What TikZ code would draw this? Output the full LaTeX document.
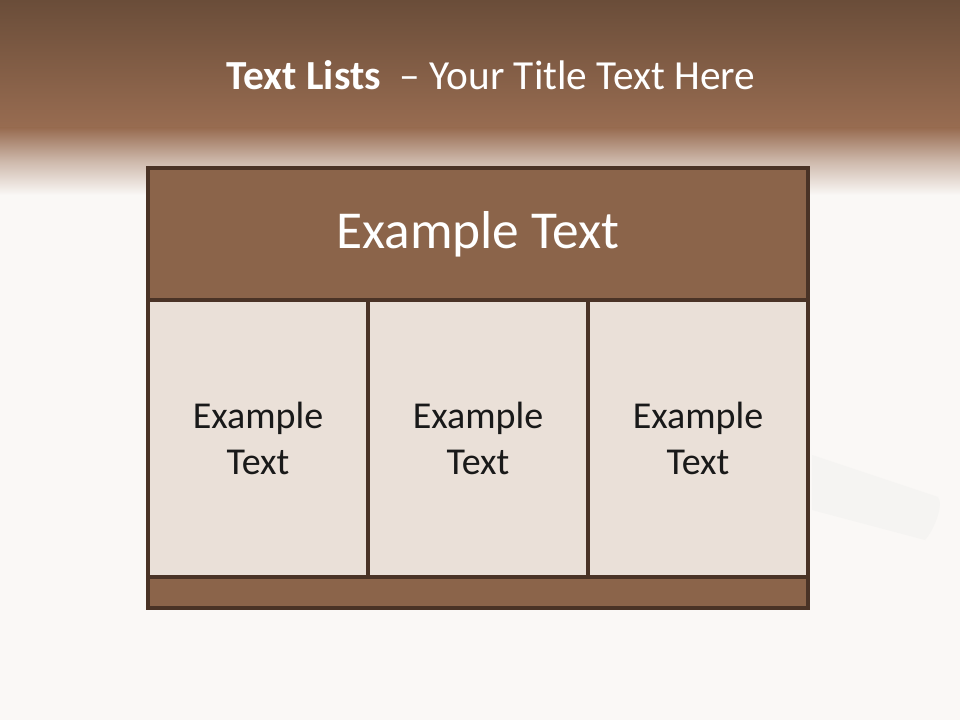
\documentclass[tikz,border=0pt]{standalone}
\usepackage{fontspec}
\setmainfont{Carlito}
\usetikzlibrary{positioning}
\definecolor{BandTop}{HTML}{6A4D39}
\definecolor{BandLow}{HTML}{986C51}
\definecolor{Paper}{HTML}{FAF8F6}
\definecolor{Bark}{HTML}{8B644A}
\definecolor{Sand}{HTML}{EAE0D8}
\definecolor{Edge}{HTML}{4A3326}
\definecolor{Chalk}{HTML}{F5F4F2}

\begin{document}
\begin{tikzpicture}[x=0.75pt,y=-0.75pt,
    band/.style={fill=Bark,draw=Edge,line width=2.3pt,inner sep=0pt},
    cell/.style={fill=Sand,draw=Edge,line width=2.3pt,inner sep=0pt,minimum width=165pt,minimum height=207.75pt,align=center,font=\fontsize{28.5}{34}\selectfont,text=black!90}]
    % background
    \fill[Paper] (0,0) rectangle (960,720);
    \useasboundingbox (0,0) rectangle (960,720);
    \shade[top color=BandTop,bottom color=BandLow] (0,0) rectangle (960,128);
    \shade[top color=BandLow,bottom color=Paper,middle color=BandLow!45!Paper] (0,128) rectangle (960,195);
    \fill[Chalk] (812,455) -- (938,497) .. controls (944,505) and (934,530) .. (925,540) -- (812,510) -- cycle;
    % title
    \node[text=white,font=\fontsize{31}{37}\selectfont] (title) at (491,75) {\textbf{Text Lists}\ \ – Your Title Text Here};
    % table
    \node[band,minimum width=495pt,minimum height=99pt,text=white,font=\fontsize{40}{48}\selectfont] (head) at (478,234) {Example Text};
    \node[cell] (c1) at (258,438.5) {Example\\Text};
    \node[cell] (c2) at (478,438.5) {Example\\Text};
    \node[cell] (c3) at (698,438.5) {Example\\Text};
    \node[band,minimum width=495pt,minimum height=23.25pt] (foot) at (478,592.5) {};
  \end{tikzpicture}
\end{document}
